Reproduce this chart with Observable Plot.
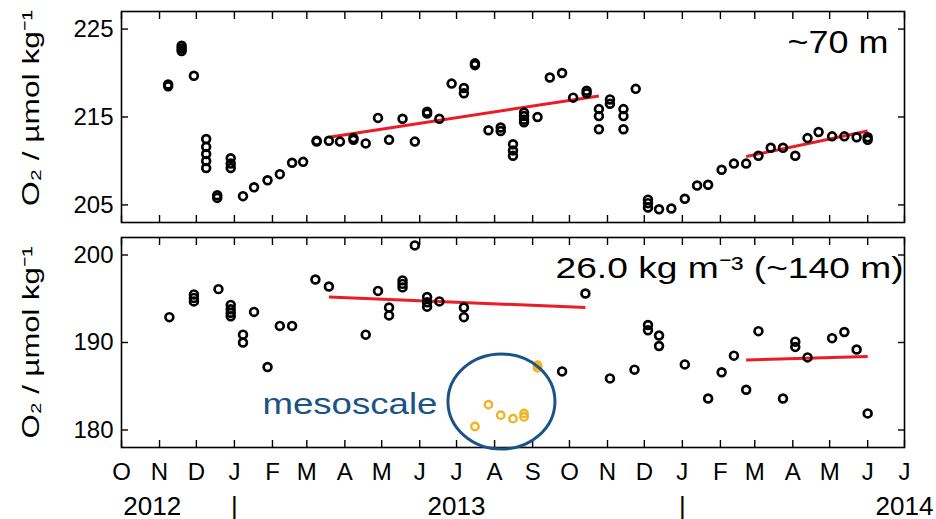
<!DOCTYPE html>
<html><head><meta charset="utf-8">
<script src="https://cdn.jsdelivr.net/npm/d3@7"></script>
<script src="https://cdn.jsdelivr.net/npm/@observablehq/plot@0.6"></script>
<style>
body{margin:0;background:#fff;}
#chart{position:relative;width:936px;height:519px;overflow:hidden;background:#fff;}
#top,#bottom{position:absolute;left:0;}
#top{top:0;}
#bottom{top:230px;}
</style></head>
<body><div id="chart"><div id="top"></div><div id="bottom"></div></div>
<script>
// ---------- data ----------
const topDates = ["2012-11-08","2012-11-08","2012-11-19","2012-11-19","2012-11-19","2012-11-29",
"2012-12-09","2012-12-09","2012-12-09","2012-12-09","2012-12-09","2012-12-18","2012-12-18",
"2012-12-29","2012-12-29","2012-12-29","2013-01-08","2013-01-17","2013-01-28","2013-02-07","2013-02-17","2013-02-26",
"2013-03-09","2013-03-09","2013-03-19","2013-03-28","2013-04-08","2013-04-08","2013-04-18","2013-04-28","2013-05-07",
"2013-05-18","2013-05-28","2013-06-07","2013-06-07","2013-06-17","2013-06-27","2013-07-07","2013-07-07","2013-07-16","2013-07-16",
"2013-07-27","2013-08-06","2013-08-06","2013-08-16","2013-08-16","2013-08-16","2013-08-25","2013-08-25","2013-08-25","2013-08-25",
"2013-09-05","2013-09-15","2013-09-25","2013-10-04","2013-10-15","2013-10-15","2013-10-25","2013-10-25","2013-10-25",
"2013-11-03","2013-11-03","2013-11-14","2013-11-14","2013-11-14","2013-11-24","2013-12-04","2013-12-04","2013-12-04",
"2013-12-13","2013-12-23","2014-01-03","2014-01-13","2014-01-22","2014-02-02","2014-02-12","2014-02-22","2014-03-04",
"2014-03-14","2014-03-24","2014-04-03","2014-04-13","2014-04-22","2014-05-03","2014-05-13","2014-05-23","2014-06-01","2014-06-01"];
const topValues = [218.5,218.7,223.1,222.8,222.5,219.7,
212.5,211.6,210.8,210.0,209.2,206.1,205.8,
210.3,209.7,209.2,206.0,207.0,207.8,208.5,209.8,209.9,
212.3,212.2,212.3,212.2,212.6,212.4,212.0,214.9,212.4,
214.8,212.2,215.6,215.4,214.8,218.8,218.3,217.7,221.1,220.9,
213.5,213.8,213.4,211.9,211.2,210.6,215.5,215.1,214.7,214.4,
215.0,219.5,220.0,217.2,218.0,217.7,215.9,215.1,213.6,
217.0,216.5,215.9,215.1,213.6,218.2,205.6,205.2,204.7,
204.5,204.6,205.7,207.2,207.3,209.0,209.7,209.7,210.6,
211.5,211.5,210.6,212.6,213.3,212.8,212.8,212.7,212.7,212.4];

const bottomDates = ["2012-11-09","2012-11-29","2012-11-29","2012-11-29","2012-12-19",
"2012-12-29","2012-12-29","2012-12-29","2012-12-29","2013-01-08","2013-01-08","2013-01-17","2013-01-28",
"2013-02-07","2013-02-17","2013-03-08","2013-03-19","2013-04-18","2013-04-28","2013-05-07","2013-05-07",
"2013-05-18","2013-05-18","2013-05-18","2013-05-28","2013-06-07","2013-06-07","2013-06-07","2013-06-17",
"2013-07-07","2013-07-07","2013-09-25","2013-10-14","2013-11-03","2013-11-23","2013-12-04","2013-12-04",
"2013-12-13","2013-12-13","2014-01-03","2014-01-22","2014-02-02","2014-02-12","2014-02-22","2014-03-04",
"2014-03-24","2014-04-03","2014-04-03","2014-04-13","2014-05-03","2014-05-13","2014-05-23","2014-06-01"];
const bottomValues = [192.9,195.5,195.1,194.7,196.1,
194.3,193.8,193.4,193.0,190.9,190.0,193.5,187.2,
191.9,191.9,197.2,196.4,190.9,195.9,194.0,193.1,
197.1,196.7,196.3,201.1,195.2,194.6,194.1,194.7,
194.0,192.9,186.7,195.6,185.9,186.9,192.0,191.4,
190.8,189.6,187.5,183.6,186.6,188.5,184.6,191.3,
183.6,190.1,189.5,188.3,190.5,191.2,189.2,181.9];

const mesoDates = ["2013-07-16","2013-07-27","2013-08-06","2013-08-16","2013-08-25","2013-08-25","2013-09-05","2013-09-05"];
const mesoValues = [180.4,182.9,181.7,181.3,181.9,181.5,187.4,187.1];

const topTrendStart = ["2013-03-19","2014-02-22"], topTrendEnd = ["2013-10-25","2014-06-01"];
const topTrendFrom = [212.7,210.5], topTrendTo = [217.4,213.4];
const botTrendStart = ["2013-03-19","2014-02-22"], botTrendEnd = ["2013-10-14","2014-06-01"];
const botTrendFrom = [195.2,188.0], botTrendTo = [194.0,188.4];

const topTicks = [205, 215, 225];
const bottomTicks = [180, 190, 200];
const monthLetters = ["J","F","M","A","M","J","J","A","S","O","N","D"];
const yearLabels = ["2012","|","2013","|","2014"];
const yearDates = ["2012-10-26","2013-01-01","2013-07-01","2014-01-01","2014-07-01"];
const mesoCenterDate = "2013-08-07", mesoCenterValue = 183.2;

const yLabel = "O₂ / µmol kg⁻¹";
const topNote = "~70 m";
const bottomNote = "26.0 kg m⁻³ (~140 m)";
const mesoNote = "mesoscale";

// ---------- helpers ----------
const D = s => new Date(s + "T00:00:00Z");
const xDomain = [D("2012-10-01"), D("2014-07-01")];
const monthTicks = d3.utcMonth.range(D("2012-10-01"), D("2014-07-02"));
const rows = (ds, vs) => ds.map((d, i) => ({date: D(d), o2: vs[i]}));
const links = (s, e, a, b) => s.map((d, i) => ({x1: D(d), x2: D(e[i]), y1: a[i], y2: b[i]}));

const RED = "#ec1c24", ORANGE = "#f4b122", BLUE = "#1b5386";
const FONT = "'Liberation Sans', Arial, Helvetica, sans-serif";

function frameMarks(yTicks) {
  const t = {stroke: "#000", strokeWidth: 1.4, fill: "none", label: null};
  return [
    Plot.axisX(monthTicks, {anchor: "top", tickSize: -7, ...t}),
    Plot.axisX(monthTicks, {anchor: "bottom", tickSize: -7, ...t}),
    Plot.axisY(yTicks, {anchor: "left", tickSize: -7, ...t}),
    Plot.axisY(yTicks, {anchor: "right", tickSize: -7, ...t}),
    Plot.axisY(yTicks, {anchor: "left", tickSize: 0, tickPadding: 8, label: null, fontSize: 24, fill: "#000"}),
    Plot.frame({stroke: "#000", strokeWidth: 1.6})
  ];
}

function stretch(svg, text, len) {
  d3.select(svg).selectAll("text")
    .filter(function () { return this.textContent === text; })
    .attr("textLength", len).attr("lengthAdjust", "spacingAndGlyphs");
}

const common = {
  width: 936, marginLeft: 121, marginRight: 32,
  x: {type: "utc", domain: xDomain},
  style: {fontFamily: FONT, fontSize: "24px", color: "#000", background: "transparent", overflow: "visible"}
};
const dotStyle = {r: 3.9, stroke: "#000", strokeWidth: 2.7, fill: "none"};

// ---------- top panel ----------
const topPlot = Plot.plot({
  ...common,
  height: 230, marginTop: 11, marginBottom: 8,
  y: {domain: [203, 227]},
  marks: [
    ...frameMarks(topTicks),
    Plot.link(links(topTrendStart, topTrendEnd, topTrendFrom, topTrendTo), {x1: "x1", x2: "x2", y1: "y1", y2: "y2", stroke: RED, strokeWidth: 3}),
    Plot.dot(rows(topDates, topValues), {x: "date", y: "o2", ...dotStyle}),
    Plot.text([yLabel], {frameAnchor: "left", rotate: -90, dx: -83, dy: 89, textAnchor: "start", lineAnchor: "bottom", fontSize: 24, fill: "#000"}),
    Plot.text([topNote], {frameAnchor: "top-right", textAnchor: "end", lineAnchor: "bottom", dx: -16, dy: 41, fontSize: 31, fill: "#000"})
  ]
});
stretch(topPlot, yLabel, 196);
stretch(topPlot, topNote, 101);
document.getElementById("top").append(topPlot);

// ---------- bottom panel ----------
function mesoEllipse(index, scales) {
  return d3.create("svg:ellipse")
    .attr("cx", scales.x(D(mesoCenterDate)))
    .attr("cy", scales.y(mesoCenterValue))
    .attr("rx", 53.5).attr("ry", 47.5)
    .attr("fill", "none").attr("stroke", BLUE).attr("stroke-width", 3)
    .node();
}

const bottomPlot = Plot.plot({
  ...common,
  height: 289, marginTop: 7, marginBottom: 72,
  y: {domain: [178, 202]},
  marks: [
    ...frameMarks(bottomTicks),
    Plot.axisX(monthTicks, {anchor: "bottom", tickSize: 0, tickPadding: 15, label: null, fontSize: 24, fill: "#000",
      tickFormat: d => monthLetters[d.getUTCMonth()]}),
    Plot.text(yearLabels, {x: (d, i) => D(yearDates[i]), frameAnchor: "bottom", lineAnchor: "bottom", dy: 67, fontSize: 26, fill: "#000"}),
    Plot.link(links(botTrendStart, botTrendEnd, botTrendFrom, botTrendTo), {x1: "x1", x2: "x2", y1: "y1", y2: "y2", stroke: RED, strokeWidth: 3}),
    Plot.dot(rows(bottomDates, bottomValues), {x: "date", y: "o2", ...dotStyle}),
    Plot.dot(rows(mesoDates, mesoValues), {x: "date", y: "o2", r: 3.7, stroke: ORANGE, strokeWidth: 2.4, fill: "none"}),
    mesoEllipse,
    Plot.text([mesoNote], {x: () => D(mesoCenterDate), y: () => mesoCenterValue, textAnchor: "end", lineAnchor: "bottom", dx: -64.5, dy: 11.5, fontSize: 29, fill: BLUE}),
    Plot.text([yLabel], {frameAnchor: "left", rotate: -90, dx: -83, dy: 96, textAnchor: "start", lineAnchor: "bottom", fontSize: 24, fill: "#000"}),
    Plot.text([bottomNote], {frameAnchor: "top-right", textAnchor: "end", lineAnchor: "bottom", dx: -1, dy: 40, fontSize: 30, fill: "#000"})
  ]
});
stretch(bottomPlot, yLabel, 192);
stretch(bottomPlot, bottomNote, 348);
stretch(bottomPlot, mesoNote, 175);
document.getElementById("bottom").append(bottomPlot);
</script>
</body></html>
